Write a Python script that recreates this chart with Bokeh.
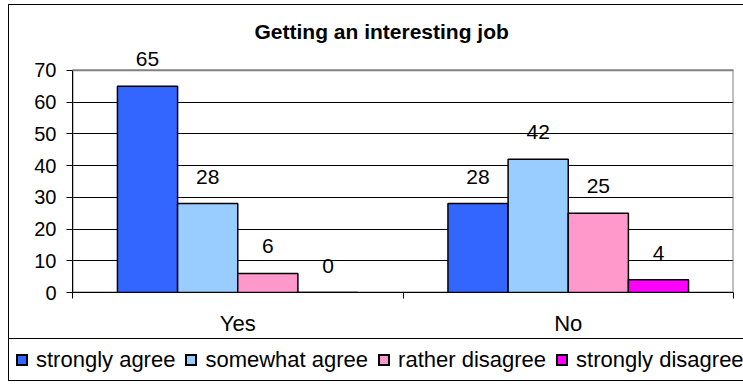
from bokeh.plotting import figure
from bokeh.layouts import column
from bokeh.models import ColumnDataSource, Range1d, FixedTicker, LabelSet, Div
from bokeh.core.properties import value
from bokeh.transform import dodge
from bokeh.embed import file_html
from bokeh.resources import INLINE

# ---- data ----
categories = ["Yes", "No"]
series_names = ["strongly agree", "somewhat agree", "rather disagree", "strongly disagree"]
strongly_agree = [65, 28]
somewhat_agree = [28, 42]
rather_disagree = [6, 25]
strongly_disagree = [0, 4]
series_values = [strongly_agree, somewhat_agree, rather_disagree, strongly_disagree]
colors = ["#3366FF", "#99CCFF", "#FF99CC", "#FF00FF"]
y_ticks = [0, 10, 20, 30, 40, 50, 60, 70]
title_text = "Getting an interesting job"

FONT = "Liberation Sans"
W = 734

ncat = len(categories)
cat_centers = [i + 0.5 for i in range(ncat)]
cat_edges = [float(i) for i in range(ncat + 1)]
y_max = y_ticks[-1]

# ---------------- main chart ----------------
p = figure(x_range=Range1d(0, ncat), y_range=Range1d(0, 77.5),
           width=W, height=333, output_backend="svg", toolbar_location=None,
           min_border_left=63, min_border_right=10, min_border_top=41, min_border_bottom=44)
p.background_fill_color = "white"
p.border_fill_color = "white"
p.outline_line_color = None

# title
p.title.text = title_text
p.title.align = "left"
p.title.offset = 182
p.title.text_font = FONT
p.title.text_font_size = "21px"
p.title.text_font_style = "bold"
p.title.text_color = "black"
p.title.standoff = 7

# y axis
yax = p.yaxis[0]
yax.ticker = FixedTicker(ticks=y_ticks)
yax.bounds = (0, y_max)
yax.major_tick_out = 6
yax.major_tick_in = 0
yax.minor_tick_line_color = None
yax.axis_line_color = "black"
yax.major_tick_line_color = "black"
yax.major_label_text_font = FONT
yax.major_label_text_font_size = "20px"
yax.major_label_text_color = "black"
yax.major_label_standoff = 10
p.ygrid.grid_line_color = "black"
p.ygrid.grid_line_width = 1
p.xgrid.grid_line_color = None

# x axis: category labels at centres, tick marks at category boundaries
xax = p.xaxis[0]
xax.ticker = FixedTicker(ticks=cat_centers, minor_ticks=cat_edges)
xax.major_label_overrides = {c: name for c, name in zip(cat_centers, categories)}
xax.major_tick_line_color = None
xax.major_tick_out = 0
xax.major_tick_in = 0
xax.minor_tick_line_color = "black"
xax.minor_tick_out = 6
xax.minor_tick_in = 0
xax.axis_line_color = "black"
xax.major_label_text_font = FONT
xax.major_label_text_font_size = "22px"
xax.major_label_text_color = "black"
xax.major_label_standoff = 12

# plot-area border (grey)
p.quad(left=[0], right=[ncat], bottom=[0], top=[y_max], fill_color=None,
       line_color="#808080", line_width=2)

# bars
data = {"cat": cat_centers}
for i, vals in enumerate(series_values):
    data[f"v{i}"] = vals
    data[f"t{i}"] = [str(v) for v in vals]
src = ColumnDataSource(data)

bar_w = 0.182
n = len(series_values)
for i in range(n):
    off = (i - (n - 1) / 2) * bar_w
    p.vbar(x=dodge("cat", off), top=f"v{i}", width=bar_w, source=src,
           fill_color=colors[i], line_color="black", line_width=1.5)
    lbl = LabelSet(x=dodge("cat", off), y=f"v{i}", text=f"t{i}", source=src,
                   text_align="center", text_baseline="alphabetic", y_offset=20,
                   text_font=value(FONT), text_font_size=value("21px"), text_color="black")
    p.add_layout(lbl)

# ---------------- legend strip ----------------
item_html = []
for name, color in zip(series_names, colors):
    item_html.append(
        f'<span style="display:inline-block;box-sizing:border-box;width:12px;height:12px;'
        f'background:{color};border:2px solid black;margin-right:8px;flex:none"></span>'
        f'<span style="margin-right:10px;flex:none">{name}</span>')
legend_html = (
    f'<div style="box-sizing:border-box;width:{W}px;height:43px;border-top:1px solid black;'
    f'border-bottom:1px solid black;display:flex;align-items:center;padding-left:7px;'
    f'font-family:\'{FONT}\';font-size:22px;color:black;white-space:nowrap;overflow:hidden;'
    f'background:white">' + "".join(item_html) + '</div>')
legend_div = Div(text=legend_html, width=W, height=43, margin=(0, 0, 0, 0),
                 styles={"overflow": "hidden"})

layout = column(p, legend_div, spacing=0)
layout.styles = {"border-top": "1px solid black", "border-left": "1px solid black",
                 "margin-top": "4px", "margin-left": "8px"}

open("out.html", "w").write(file_html(layout, INLINE))
